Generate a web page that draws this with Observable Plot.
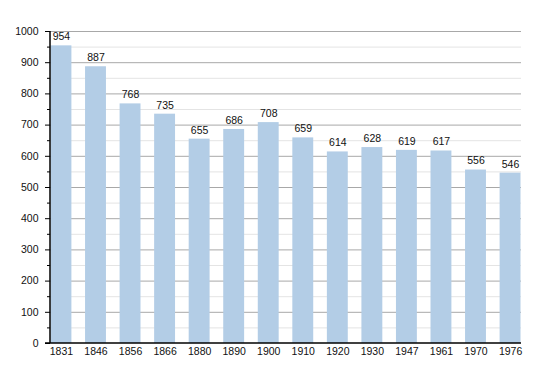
<!DOCTYPE html>
<html><head><meta charset="utf-8">
<script src="https://cdn.jsdelivr.net/npm/d3@7"></script>
<script src="https://cdn.jsdelivr.net/npm/@observablehq/plot@0.6"></script>
<style>
body{margin:0;background:#fff;}
svg{font-family:"Liberation Sans",Arial,sans-serif;}
</style>
</head><body>
<div id="chart"></div>
<script>
const years = ["1831","1846","1856","1866","1880","1890","1900","1910","1920","1930","1947","1961","1970","1976"];
const population = [954,887,768,735,655,686,708,659,614,628,619,617,556,546];
const majorTicks = [0,100,200,300,400,500,600,700,800,900,1000];
const minorTicks = [50,150,250,350,450,550,650,750,850,950];

const data = years.map((y,i)=>({year:y, pop:population[i]}));

const chart = Plot.plot({
  width: 550,
  height: 373,
  marginLeft: 50,
  marginRight: 29,
  marginTop: 31,
  marginBottom: 30,
  style: {fontSize: "10px", fontFamily: "Liberation Sans, Arial, sans-serif", color: "#111", background: "#fff"},
  x: {domain: years, type: "band", range: [50.5, 520.5], round: false, paddingInner: 0.395, paddingOuter: 0, align: 0, label: null},
  y: {domain: [0,1000], label: null},
  marks: [
    Plot.ruleY(minorTicks, {stroke: "#e4e4e4", strokeWidth: 1}),
    Plot.ruleY(majorTicks.filter(d=>d>0), {stroke: "#a8a8a8", strokeWidth: 1}),
    Plot.barY(data, {x: "year", y: "pop", fill: "#b3cde6"}),
    Plot.text(data, {x: "year", y: "pop", text: d=>String(d.pop), dy: -9, fill: "#111", fontSize: 10.5}),
    Plot.axisY(majorTicks, {tickSize: 5, tickPadding: 7, tickFormat: d=>String(d), stroke: "#000", fill: "#111", fontSize: 10.5, label: null}),
    Plot.axisY(minorTicks, {tickSize: 3, text: null, stroke: "#000", label: null}),
    Plot.axisX({tickSize: 0, tickPadding: 4, fill: "#111", fontSize: 10.5, label: null})
  ]
});
document.getElementById("chart").appendChild(chart);

// axis lines
const svg = d3.select(chart);
svg.append("line").attr("x1",50).attr("x2",50).attr("y1",31).attr("y2",343).attr("stroke","#000").attr("stroke-width",1.5);
svg.append("line").attr("x1",45).attr("x2",521).attr("y1",343).attr("y2",343).attr("stroke","#000").attr("stroke-width",1.5);
</script>
</body></html>
